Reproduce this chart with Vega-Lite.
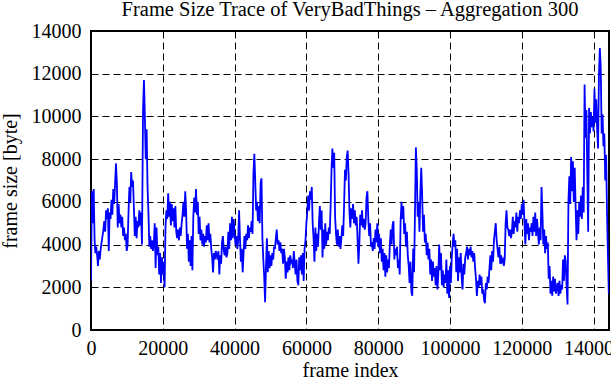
{
"$schema": "https://vega.github.io/schema/vega-lite/v6.json",
"width": 518, "height": 299,
"autosize": "none",
"padding": {"left": 91, "top": 31, "right": 2, "bottom": 50},
"background": "white",
"config": {
 "view": {"stroke": "black", "strokeWidth": 2},
 "font": "Liberation Serif",
 "axis": {"labelFont": "Liberation Serif", "titleFont": "Liberation Serif", "labelFontSize": 20, "titleFontSize": 20, "labelColor": "black", "titleColor": "black", "titleFontWeight": "normal", "grid": true, "gridColor": "black", "gridDash": [7, 4], "gridWidth": 1, "gridOpacity": 1, "domain": false, "ticks": false, "labelFlush": false}
},
"title": {"text": "Frame Size Trace of VeryBadThings – Aggregation 300", "font": "Liberation Serif", "fontSize": 20.5, "fontWeight": "normal", "color": "black", "anchor": "middle", "frame": "group", "baseline": "alphabetic", "offset": 3, "dy": 18.5},
"data": {"values": [
{"f":0,"v":2300},{"f":250,"v":6500},{"f":500,"v":5000},{"f":750,"v":6600},{"f":1000,"v":4200},{"f":1200,"v":3600},{"f":1450,"v":3900},{"f":1700,"v":3500},{"f":1950,"v":3000},{"f":2200,"v":3700},{"f":2450,"v":3300},{"f":2700,"v":3800},{"f":2950,"v":4100},{"f":3200,"v":4400},{"f":3450,"v":4700},{"f":3700,"v":5100},{"f":3950,"v":4600},{"f":4200,"v":5600},{"f":4450,"v":5200},{"f":4700,"v":5700},{"f":4950,"v":3700},{"f":5200,"v":5500},{"f":5450,"v":5200},{"f":5700,"v":6100},{"f":5950,"v":5400},{"f":6200,"v":6600},{"f":6450,"v":5900},{"f":6700,"v":6800},{"f":6950,"v":7800},{"f":7200,"v":6900},{"f":7450,"v":4800},{"f":7700,"v":5900},{"f":7950,"v":5000},{"f":8200,"v":5400},{"f":8450,"v":4800},{"f":8700,"v":5300},{"f":8950,"v":4400},{"f":9200,"v":4800},{"f":9450,"v":4200},{"f":9700,"v":4500},{"f":9950,"v":3700},{"f":10200,"v":4000},{"f":10450,"v":5500},{"f":10700,"v":6700},{"f":10950,"v":6000},{"f":11200,"v":7400},{"f":11450,"v":6700},{"f":11700,"v":7000},{"f":11950,"v":5700},{"f":12200,"v":4400},{"f":12450,"v":5300},{"f":12700,"v":4300},{"f":12950,"v":5100},{"f":13200,"v":4800},{"f":13450,"v":5600},{"f":13700,"v":4900},{"f":13950,"v":5500},{"f":14200,"v":4000},{"f":14500,"v":10300},{"f":14750,"v":11700},{"f":15000,"v":10000},{"f":15250,"v":8000},{"f":15500,"v":9400},{"f":15750,"v":6700},{"f":16000,"v":5500},{"f":16250,"v":3900},{"f":16500,"v":4400},{"f":16750,"v":3800},{"f":17000,"v":4200},{"f":17250,"v":3700},{"f":17500,"v":4000},{"f":17750,"v":5000},{"f":18000,"v":2900},{"f":18250,"v":4800},{"f":18500,"v":3500},{"f":18750,"v":3900},{"f":19000,"v":2600},{"f":19250,"v":3600},{"f":19500,"v":2200},{"f":19750,"v":3400},{"f":20000,"v":2600},{"f":20250,"v":3200},{"f":20500,"v":2000},
{"f":20750,"v":4800},{"f":21000,"v":5600},{"f":21250,"v":5200},{"f":21500,"v":6400},{"f":21750,"v":5300},{"f":22000,"v":6000},{"f":22250,"v":4900},{"f":22500,"v":5900},{"f":22750,"v":5100},{"f":23000,"v":5700},{"f":23250,"v":4800},{"f":23500,"v":5800},{"f":23750,"v":4600},{"f":24000,"v":4300},{"f":24250,"v":4700},{"f":24500,"v":4200},{"f":24750,"v":4800},{"f":25000,"v":4400},{"f":25250,"v":5000},{"f":25500,"v":5400},{"f":25750,"v":6000},{"f":26000,"v":5300},{"f":26250,"v":6500},{"f":26500,"v":5600},{"f":26750,"v":3800},{"f":27000,"v":4500},{"f":27250,"v":3200},{"f":27500,"v":4200},{"f":27750,"v":3000},{"f":28000,"v":4400},{"f":28250,"v":2800},{"f":28500,"v":5300},{"f":28750,"v":6200},{"f":29000,"v":5500},{"f":29250,"v":6600},{"f":29500,"v":5400},{"f":29750,"v":6000},{"f":30000,"v":4500},{"f":30250,"v":5300},{"f":30500,"v":4200},{"f":30750,"v":4700},{"f":31000,"v":4000},{"f":31250,"v":4500},{"f":31500,"v":3900},{"f":31750,"v":4400},{"f":32000,"v":4100},{"f":32250,"v":4900},{"f":32500,"v":4200},{"f":32750,"v":5000},{"f":33000,"v":4100},{"f":33250,"v":4500},{"f":33500,"v":3800},{"f":33750,"v":3400},{"f":34000,"v":2700},{"f":34250,"v":3600},{"f":34500,"v":3300},{"f":34750,"v":3700},{"f":35000,"v":3500},{"f":35250,"v":3300},{"f":35500,"v":3700},{"f":35750,"v":2600},{"f":36000,"v":3500},{"f":36250,"v":3100},{"f":36500,"v":4100},{"f":36750,"v":4400},{"f":37000,"v":3700},{"f":37250,"v":3500},{"f":37500,"v":3900},{"f":37750,"v":3400},{"f":38000,"v":3600},{"f":38250,"v":4600},{"f":38500,"v":3800},{"f":38750,"v":5000},{"f":39000,"v":4200},{"f":39250,"v":5300},{"f":39500,"v":4300},{"f":39750,"v":5200},{"f":40000,"v":4500},{"f":40250,"v":4000},{"f":40500,"v":4400},{"f":40750,"v":3800},{"f":41000,"v":4200},
{"f":41250,"v":5600},{"f":41500,"v":4300},{"f":41750,"v":3200},{"f":42000,"v":3800},{"f":42250,"v":2700},{"f":42500,"v":3600},{"f":42750,"v":4400},{"f":43000,"v":3800},{"f":43250,"v":4500},{"f":43500,"v":4200},{"f":43750,"v":4900},{"f":44000,"v":4300},{"f":44250,"v":4800},{"f":44500,"v":4600},{"f":44750,"v":5100},{"f":45000,"v":4500},{"f":45250,"v":7300},{"f":45500,"v":8250},{"f":45750,"v":7000},{"f":46000,"v":5600},{"f":46250,"v":6000},{"f":46500,"v":5100},{"f":46750,"v":5800},{"f":47000,"v":5000},{"f":47250,"v":6900},{"f":47500,"v":7100},{"f":47750,"v":4300},{"f":48000,"v":3300},{"f":48250,"v":2500},{"f":48500,"v":1300},{"f":48750,"v":3000},{"f":49000,"v":4300},{"f":49250,"v":2700},{"f":49500,"v":3700},{"f":49750,"v":2900},{"f":50000,"v":3500},{"f":50250,"v":3000},{"f":50500,"v":3600},{"f":50750,"v":3300},{"f":51000,"v":3900},{"f":51250,"v":3800},{"f":51500,"v":4300},{"f":51750,"v":4700},{"f":52000,"v":4000},{"f":52250,"v":4200},{"f":52500,"v":3700},{"f":52750,"v":4100},{"f":53000,"v":3600},{"f":53250,"v":3800},{"f":53500,"v":3100},{"f":53750,"v":3800},{"f":54000,"v":3400},{"f":54250,"v":2400},{"f":54500,"v":3200},{"f":54750,"v":2700},{"f":55000,"v":3400},{"f":55250,"v":2800},{"f":55500,"v":3500},{"f":55750,"v":3200},{"f":56000,"v":3300},{"f":56250,"v":2900},{"f":56500,"v":3700},{"f":56750,"v":3100},{"f":57000,"v":2600},{"f":57250,"v":3300},{"f":57500,"v":2300},{"f":57750,"v":2100},{"f":58000,"v":3400},{"f":58250,"v":2800},{"f":58500,"v":3500},{"f":58750,"v":2600},{"f":59000,"v":3600},{"f":59250,"v":2300},{"f":59500,"v":3800},{"f":59750,"v":4200},{"f":60000,"v":5000},{"f":60250,"v":5500},{"f":60500,"v":6300},{"f":60750,"v":5600},{"f":61000,"v":6500},{"f":61250,"v":6100},{"f":61500,"v":6700},
{"f":61750,"v":5000},{"f":62000,"v":4300},{"f":62250,"v":3200},{"f":62500,"v":4800},{"f":62750,"v":3700},{"f":63000,"v":4500},{"f":63250,"v":3900},{"f":63500,"v":5000},{"f":63750,"v":5800},{"f":64000,"v":4700},{"f":64250,"v":5600},{"f":64500,"v":3400},{"f":64750,"v":4700},{"f":65000,"v":3800},{"f":65250,"v":5000},{"f":65500,"v":4000},{"f":65750,"v":4600},{"f":66000,"v":4200},{"f":66250,"v":4800},{"f":66500,"v":4500},{"f":66750,"v":5800},{"f":67000,"v":7500},{"f":67250,"v":8500},{"f":67500,"v":7600},{"f":67750,"v":8300},{"f":68000,"v":5300},{"f":68250,"v":4500},{"f":68500,"v":4000},{"f":68750,"v":4700},{"f":69000,"v":3900},{"f":69250,"v":4400},{"f":69500,"v":3800},{"f":69750,"v":4300},{"f":70000,"v":4900},{"f":70250,"v":4400},{"f":70500,"v":5800},{"f":70750,"v":7500},{"f":71000,"v":7000},{"f":71250,"v":8100},{"f":71500,"v":8400},{"f":71750,"v":7300},{"f":72000,"v":5500},{"f":72250,"v":4800},{"f":72500,"v":5700},{"f":72750,"v":5200},{"f":73000,"v":5900},{"f":73250,"v":5000},{"f":73500,"v":5600},{"f":73750,"v":4900},{"f":74000,"v":5300},{"f":74250,"v":4300},{"f":74500,"v":3100},{"f":74750,"v":4000},{"f":75000,"v":5400},{"f":75250,"v":4900},{"f":75500,"v":5600},{"f":75750,"v":4800},{"f":76000,"v":5200},{"f":76250,"v":4700},{"f":76500,"v":5000},{"f":76750,"v":6200},{"f":77000,"v":6500},{"f":77250,"v":5200},{"f":77500,"v":4400},{"f":77750,"v":5000},{"f":78000,"v":3900},{"f":78250,"v":4100},{"f":78500,"v":3700},{"f":78750,"v":4300},{"f":79000,"v":3800},{"f":79250,"v":4700},{"f":79500,"v":4100},{"f":79750,"v":5000},{"f":80000,"v":3900},{"f":80250,"v":4500},{"f":80500,"v":3600},{"f":80750,"v":4300},{"f":81000,"v":3200},{"f":81250,"v":3800},{"f":81500,"v":2800},{"f":81750,"v":3600},{"f":82000,"v":2500},
{"f":82250,"v":3500},{"f":82500,"v":2700},{"f":82750,"v":3300},{"f":83000,"v":2900},{"f":83250,"v":4000},{"f":83500,"v":4700},{"f":83750,"v":4000},{"f":84000,"v":4900},{"f":84250,"v":5100},{"f":84500,"v":3300},{"f":84750,"v":3800},{"f":85000,"v":3500},{"f":85250,"v":3900},{"f":85500,"v":2900},{"f":85750,"v":3300},{"f":86000,"v":2600},{"f":86250,"v":5100},{"f":86500,"v":6000},{"f":86750,"v":5200},{"f":87000,"v":5800},{"f":87250,"v":4500},{"f":87500,"v":5000},{"f":87750,"v":3900},{"f":88000,"v":4600},{"f":88250,"v":3500},{"f":88500,"v":3000},{"f":88750,"v":2200},{"f":89000,"v":3200},{"f":89250,"v":1800},{"f":89500,"v":1600},{"f":89750,"v":3800},{"f":90000,"v":2700},{"f":90250,"v":5500},{"f":90500,"v":8550},{"f":90750,"v":7500},{"f":91000,"v":5300},{"f":91250,"v":6000},{"f":91500,"v":4600},{"f":91750,"v":6400},{"f":92000,"v":7600},{"f":92250,"v":6300},{"f":92500,"v":4600},{"f":92750,"v":5400},{"f":93000,"v":4100},{"f":93250,"v":4500},{"f":93500,"v":3500},{"f":93750,"v":4100},{"f":94000,"v":3300},{"f":94250,"v":3800},{"f":94500,"v":2600},{"f":94750,"v":3300},{"f":95000,"v":2300},{"f":95250,"v":3200},{"f":95500,"v":2500},{"f":95750,"v":2900},{"f":96000,"v":2100},{"f":96250,"v":3000},{"f":96500,"v":1900},{"f":96750,"v":2600},{"f":97000,"v":4000},{"f":97250,"v":2800},{"f":97500,"v":3600},{"f":97750,"v":2100},{"f":98000,"v":2800},{"f":98250,"v":2000},{"f":98500,"v":2600},{"f":98750,"v":2200},{"f":99000,"v":3300},{"f":99250,"v":1700},{"f":99500,"v":2800},{"f":99750,"v":1500},{"f":100000,"v":3000},{"f":100250,"v":2200},{"f":100500,"v":3400},{"f":100750,"v":4000},{"f":101000,"v":4500},{"f":101250,"v":3900},{"f":101500,"v":4200},{"f":101750,"v":2700},{"f":102000,"v":3800},{"f":102250,"v":2300},{"f":102500,"v":3400},
{"f":102750,"v":2700},{"f":103000,"v":3600},{"f":103250,"v":2500},{"f":103500,"v":1900},{"f":103750,"v":3100},{"f":104000,"v":2600},{"f":104250,"v":3400},{"f":104500,"v":3600},{"f":104750,"v":3900},{"f":105000,"v":3300},{"f":105250,"v":3800},{"f":105500,"v":3500},{"f":105750,"v":3900},{"f":106000,"v":3400},{"f":106250,"v":3700},{"f":106500,"v":3200},{"f":106750,"v":3600},{"f":107000,"v":2900},{"f":107250,"v":2400},{"f":107500,"v":1600},{"f":107750,"v":2300},{"f":108000,"v":2000},{"f":108250,"v":2600},{"f":108500,"v":2100},{"f":108750,"v":2500},{"f":109000,"v":1700},{"f":109250,"v":1900},{"f":109500,"v":1400},{"f":109750,"v":1250},{"f":110000,"v":2200},{"f":110250,"v":1900},{"f":110500,"v":2500},{"f":110750,"v":2200},{"f":111000,"v":2900},{"f":111250,"v":3500},{"f":111500,"v":2800},{"f":111750,"v":3700},{"f":112000,"v":3200},{"f":112250,"v":4200},{"f":112500,"v":4600},{"f":112750,"v":5000},{"f":113000,"v":4200},{"f":113250,"v":3800},{"f":113500,"v":3400},{"f":113750,"v":3900},{"f":114000,"v":3100},{"f":114250,"v":3500},{"f":114500,"v":3200},{"f":114750,"v":3300},{"f":115000,"v":3000},{"f":115250,"v":3300},{"f":115500,"v":5000},{"f":115750,"v":5600},{"f":116000,"v":4800},{"f":116250,"v":4700},{"f":116500,"v":4400},{"f":116750,"v":4700},{"f":117000,"v":4300},{"f":117250,"v":4600},{"f":117500,"v":5300},{"f":117750,"v":4500},{"f":118000,"v":5100},{"f":118250,"v":4800},{"f":118500,"v":5500},{"f":118750,"v":4600},{"f":119000,"v":5300},{"f":119250,"v":5000},{"f":119500,"v":5600},{"f":119750,"v":5200},{"f":120000,"v":5900},{"f":120250,"v":5400},{"f":120500,"v":6100},{"f":120750,"v":5000},{"f":121000,"v":4000},{"f":121250,"v":5200},{"f":121500,"v":4500},{"f":121750,"v":5000},{"f":122000,"v":4200},{"f":122250,"v":4800},{"f":122500,"v":4600},{"f":122750,"v":5000},{"f":123000,"v":4400},
{"f":123250,"v":5300},{"f":123500,"v":4600},{"f":123750,"v":5500},{"f":124000,"v":4400},{"f":124250,"v":5200},{"f":124500,"v":4600},{"f":124750,"v":4000},{"f":125000,"v":4800},{"f":125250,"v":4200},{"f":125500,"v":6700},{"f":125750,"v":5500},{"f":126000,"v":4000},{"f":126250,"v":4700},{"f":126500,"v":3600},{"f":126750,"v":4400},{"f":127000,"v":3800},{"f":127250,"v":4100},{"f":127500,"v":2400},{"f":127750,"v":3000},{"f":128000,"v":1700},{"f":128250,"v":2300},{"f":128500,"v":1600},{"f":128750,"v":2500},{"f":129000,"v":1800},{"f":129250,"v":2400},{"f":129500,"v":1700},{"f":129750,"v":2000},{"f":130000,"v":2200},{"f":130250,"v":1600},{"f":130500,"v":2300},{"f":130750,"v":1700},{"f":131000,"v":2100},{"f":131250,"v":1900},{"f":131500,"v":3300},{"f":131750,"v":2300},{"f":132000,"v":3500},{"f":132250,"v":3200},{"f":132500,"v":2000},{"f":132750,"v":1200},{"f":133000,"v":6000},{"f":133250,"v":7200},{"f":133500,"v":5900},{"f":133750,"v":8100},{"f":134000,"v":6500},{"f":134250,"v":7900},{"f":134500,"v":6000},{"f":134750,"v":7600},{"f":135000,"v":5800},{"f":135250,"v":4200},{"f":135500,"v":5600},{"f":135750,"v":4500},{"f":136000,"v":6000},{"f":136250,"v":5300},{"f":136500,"v":6300},{"f":136750,"v":5200},{"f":137000,"v":6700},{"f":137250,"v":5500},{"f":137500,"v":11500},{"f":137750,"v":9000},{"f":138000,"v":10300},{"f":138250,"v":7400},{"f":138500,"v":4600},{"f":138750,"v":10400},{"f":139000,"v":9200},{"f":139250,"v":10200},{"f":139500,"v":9500},{"f":139750,"v":10000},{"f":140000,"v":9300},{"f":140250,"v":11300},{"f":140500,"v":9700},{"f":140750,"v":10800},{"f":141000,"v":9400},{"f":141250,"v":8500},{"f":141500,"v":11900},{"f":141750,"v":13200},{"f":142000,"v":12300},{"f":142250,"v":9200},{"f":142500,"v":10100},{"f":142750,"v":8600},{"f":143000,"v":9200},{"f":143250,"v":7000},{"f":143500,"v":8200},{"f":143750,"v":5500},{"f":144000,"v":3500},{"f":144250,"v":1700}
]},
"mark": {"type": "line", "color": "#0000ff", "strokeWidth": 1.8, "clip": true},
"encoding": {
 "x": {"field": "f", "type": "quantitative", "title": "frame index", "scale": {"domain": [0, 144300], "nice": false, "zero": false}, "axis": {"values": [0, 20000, 40000, 60000, 80000, 100000, 120000, 140000], "format": "d", "labelPadding": 8, "titlePadding": 2}},
 "y": {"field": "v", "type": "quantitative", "title": "frame size [byte]", "scale": {"domain": [0, 14000], "nice": false}, "axis": {"values": [0, 2000, 4000, 6000, 8000, 10000, 12000, 14000], "format": "d", "labelPadding": 10, "titlePadding": 11}}
}
}
